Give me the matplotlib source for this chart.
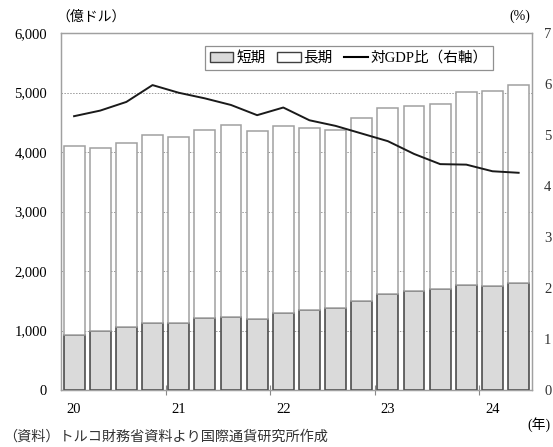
import matplotlib
matplotlib.use("Agg")
import matplotlib.pyplot as plt
from matplotlib.patches import Patch
from matplotlib.lines import Line2D
import numpy as np

plt.rcParams['font.family'] = ['Liberation Serif', 'Noto Sans CJK JP']

# Quarterly external debt of Turkey's central government, 2020Q1-2024Q2
quarters = ["20Q1", "20Q2", "20Q3", "20Q4", "21Q1", "21Q2", "21Q3", "21Q4",
            "22Q1", "22Q2", "22Q3", "22Q4", "23Q1", "23Q2", "23Q3", "23Q4",
            "24Q1", "24Q2"]
total = [4096, 4062, 4146, 4280, 4246, 4375, 4454, 4358, 4437, 4398,
         4364, 4566, 4734, 4768, 4807, 5003, 5025, 5120]
short_term = [930, 997, 1059, 1120, 1126, 1205, 1221, 1193, 1288, 1339,
              1384, 1496, 1608, 1658, 1692, 1765, 1748, 1793]
long_term = [t - s for t, s in zip(total, short_term)]
gdp_ratio = [5.37, 5.48, 5.65, 5.98, 5.83, 5.72, 5.59, 5.39, 5.54, 5.29,
             5.18, 5.03, 4.88, 4.63, 4.43, 4.42, 4.29, 4.26]
year_labels = ["20", "21", "22", "23", "24"]

fig = plt.figure(figsize=(5.53, 4.47), dpi=100)
ax = fig.add_axes([0.1103, 0.1275, 0.8512, 0.7985])
ax2 = ax.twinx()

x = np.arange(len(quarters))
w = 0.8
ax.bar(x, short_term, width=w, color="#dadada", edgecolor="#404040",
       linewidth=1.1, zorder=3)
ax.bar(x, long_term, width=w, bottom=short_term, color="white",
       edgecolor="#a0a0a0", linewidth=1.1, zorder=3)

ax.set_ylim(0, 6000)
ax.set_xlim(-0.5, len(quarters) - 0.5)
ax.set_yticks(np.arange(0, 6001, 1000))
ax.set_yticklabels([f"{v:,}" for v in range(0, 6001, 1000)])
ax.tick_params(axis="y", length=0, pad=10, labelsize=10.5, colors="black")
for v in range(1000, 6000, 1000):
    ax.axhline(v, color="#999999", linestyle=(0, (1.5, 1.5)), linewidth=0.7,
               zorder=1)

# year labels under the first quarter of each year, ticks at year boundaries
ax.set_xticks(np.arange(0, len(quarters), 4))
ax.set_xticklabels(year_labels)
ax.set_xticks(np.arange(3.5, len(quarters) - 0.5, 4), minor=True)
ax.tick_params(axis="x", which="major", length=0, pad=9, labelsize=10.5)
ax.tick_params(axis="x", which="minor", length=7, direction="inout",
               color="#888888", width=0.8)

for a in (ax, ax2):
    for sp in a.spines.values():
        sp.set_color("#a0a0a0")
        sp.set_linewidth(0.9)

ax2.plot(x, gdp_ratio, color="#1a1a1a", linewidth=1.4, zorder=5)
ax2.set_ylim(0, 7)
ax2.set_yticks(np.arange(0, 8, 1))
ax2.tick_params(axis="y", length=0, pad=9, labelsize=10.5, colors="#333333")
ax2.patch.set_visible(False)

handles = [Patch(facecolor="#dadada", edgecolor="#404040", linewidth=1.0),
           Patch(facecolor="white", edgecolor="#404040", linewidth=1.0),
           Line2D([], [], color="black", linewidth=1.5)]
leg = ax2.legend(handles, ["短期", "長期", "対GDP比（右軸）"], ncol=3,
                 loc="upper right", bbox_to_anchor=(0.933, 0.985),
                 frameon=True, fancybox=False, framealpha=1,
                 edgecolor="#909090", fontsize=10.5, handlelength=1.6,
                 handleheight=0.7, handletextpad=0.2, columnspacing=0.8,
                 borderpad=0.35)
leg.get_frame().set_linewidth(0.9)

fig.text(56 / 553, 1 - 17 / 447, "（億ドル）", fontsize=10, ha="left",
         va="center")
fig.text(530 / 553, 1 - 16 / 447, "(%)", fontsize=10, ha="right",
         va="center")
fig.text(550 / 553, 1 - 425 / 447, "(年)", fontsize=10, ha="right",
         va="center")
fig.text(3 / 553, 1 - 437 / 447, "（資料）トルコ財務省資料より国際通貨研究所作成",
         fontsize=10.2, ha="left", va="center", color="#333333")

fig.savefig("out.png", dpi=100)
